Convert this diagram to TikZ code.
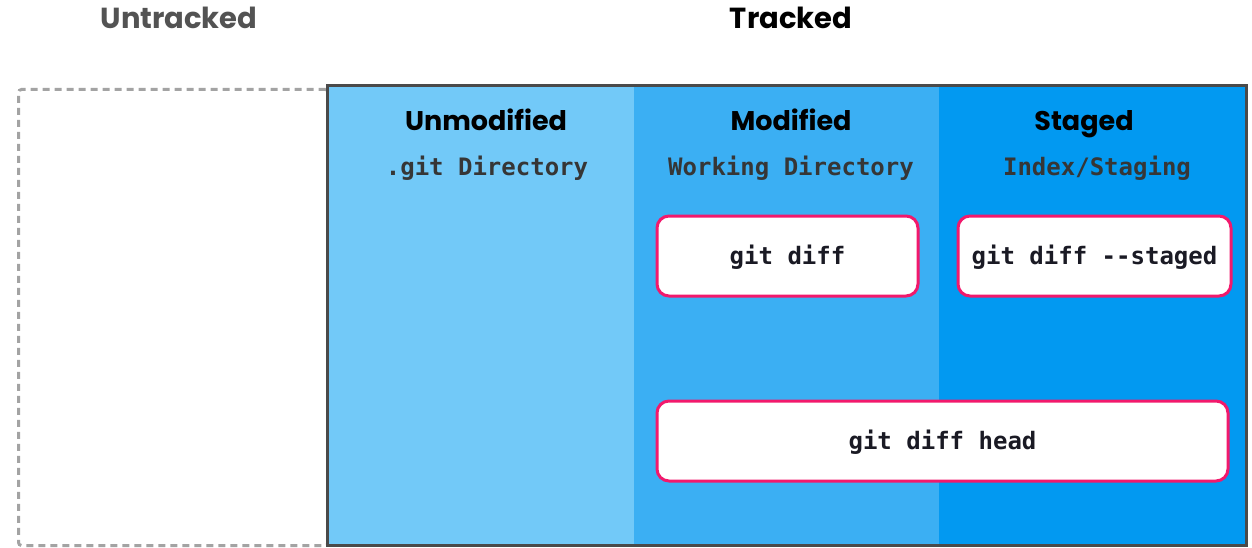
\documentclass[tikz,border=0pt]{standalone}
\usepackage{fontspec}
\setmainfont{Poppins}
\newfontfamily\codefont{DejaVu Sans Mono}
\usetikzlibrary{positioning}

\definecolor{unmodblue}{HTML}{72C9F8}
\definecolor{modblue}{HTML}{3BAFF3}
\definecolor{stagedblue}{HTML}{0299F1}
\definecolor{frame}{HTML}{4A4A4A}
\definecolor{dashgray}{HTML}{A3A3A3}
\definecolor{cmdpink}{HTML}{F2196C}
\definecolor{subgray}{HTML}{363636}
\definecolor{cmdtext}{HTML}{1A1A24}

\begin{document}
\begin{tikzpicture}[%
        x=1pt, y=-1pt,
        column/.style={inner sep=0pt, minimum height=459pt, anchor=north west},
        title/.style={font=\fontsize{29}{34}\selectfont\bfseries, anchor=base},
        heading/.style={font=\fontsize{27}{32}\selectfont\bfseries, text=black, anchor=base},
        subheading/.style={font=\codefont\fontsize{24}{28}\selectfont\bfseries, text=subgray, anchor=base},
        cmd/.style={draw=cmdpink, line width=3pt, fill=white, rounded corners=12pt,
            minimum height=80pt, text height=20pt, text depth=4pt, text=cmdtext,
            font=\codefont\fontsize{24}{28}\selectfont\bfseries}
        ]

        \useasboundingbox (0,0) rectangle (1252,548);

        % titles
        \node[title, text=frame!95] (untitle) at (179,29) {Untracked};
        \node[title] (trtitle) at (791,29) {Tracked};

        % untracked area
        \node[draw=dashgray, line width=3pt, dash pattern=on 7pt off 5pt,
            rounded corners=3pt, minimum width=310pt, minimum height=456pt,
            anchor=north west] (untracked) at (17,88) {};

        % tracked columns
        \node[column, fill=unmodblue, minimum width=307pt] (unmod) at (327,86) {};
        \node[column, fill=modblue, minimum width=305pt] (mod) at (634,86) {};
        \node[column, fill=stagedblue, minimum width=307pt] (staged) at (939,86) {};
        \draw[frame, line width=3pt] (unmod.north west) rectangle (staged.south east);

        \node[heading] (unmodhead) at (486,131) {Unmodified};
        \node[heading] (modhead) at (791,131) {Modified};
        \node[heading] (stagedhead) at (1084,131) {Staged};

        \node[subheading] (unmodsub) at (487,176) {.git Directory};
        \node[subheading] (modsub) at (791,176) {Working Directory};
        \node[subheading] (stagedsub) at (1097,176) {Index/Staging};

        % commands
        \node[cmd, minimum width=261pt] (diff) at (787.5,256) {git diff};
        \node[cmd, minimum width=273pt] (diffstaged) at (1094.5,256) {git diff -{}-staged};
        \node[cmd, minimum width=571pt] (diffhead) at (942.5,441) {git diff head};

        \end{tikzpicture}
\end{document}
